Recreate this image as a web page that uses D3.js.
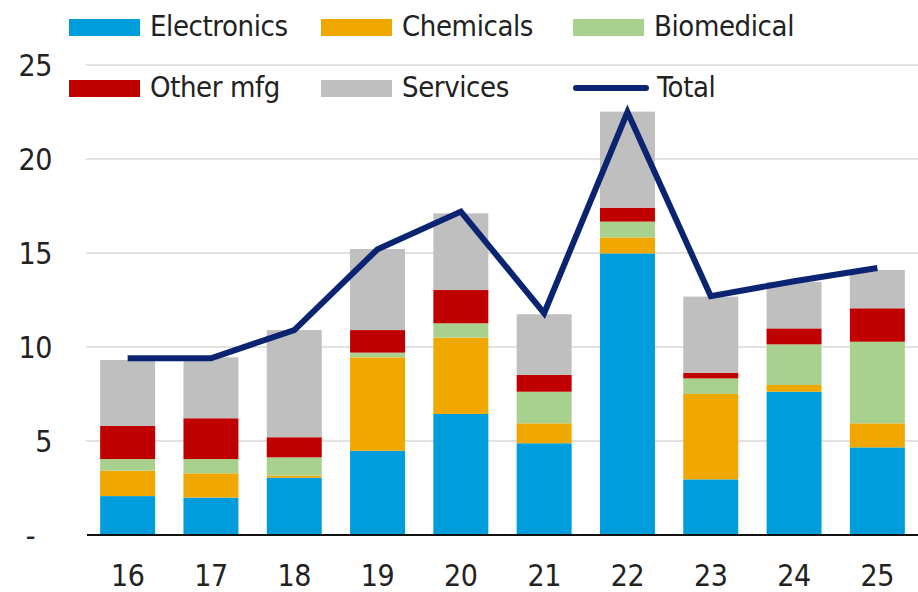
<!DOCTYPE html>
<html>
<head>
<meta charset="utf-8">
<script src="https://cdn.jsdelivr.net/npm/d3@7"></script>
<style>
  body { margin: 0; background: #fff; }
  text { font-family: "DejaVu Sans Condensed", "DejaVu Sans", sans-serif; font-stretch: condensed; fill: #222; letter-spacing: -0.4px; }
</style>
</head>
<body>
<div id="chart"></div>
<script>
// values
const years = ["16", "17", "18", "19", "20", "21", "22", "23", "24", "25"];
const electronics = [2.07, 1.99, 3.05, 4.48, 6.44, 4.88, 14.98, 2.96, 7.62, 4.66];
const chemicals = [1.35, 1.29, 0.11, 4.97, 4.06, 1.06, 0.85, 4.54, 0.36, 1.28];
const biomedical = [0.62, 0.76, 0.97, 0.25, 0.76, 1.68, 0.84, 0.83, 2.16, 4.34];
const otherMfg = [1.76, 2.17, 1.07, 1.20, 1.77, 0.89, 0.74, 0.30, 0.85, 1.78];
const services = [3.51, 3.24, 5.70, 4.31, 4.08, 3.23, 5.11, 4.05, 2.48, 2.04];
const total = [9.4, 9.4, 10.9, 15.2, 17.2, 11.8, 22.5, 12.7, 13.5, 14.2];
const yTicks = [0, 5, 10, 15, 20, 25];

const seriesNames = ["Electronics", "Chemicals", "Biomedical", "Other mfg", "Services"];
const seriesValues = [electronics, chemicals, biomedical, otherMfg, services];
const colors = ["#009ddc", "#f0a800", "#a9d18e", "#c00000", "#bfbfbf"];
const lineColor = "#0a2472";

const w = 918, h = 592;
const svg = d3.select("#chart").append("svg").attr("width", w).attr("height", h);

const x = d3.scaleBand().domain(years).range([86, 919]).paddingInner(0.34).paddingOuter(0.17);
const y = d3.scaleLinear().domain([0, 25]).range([535, 65]);

// gridlines
svg.append("g").selectAll("line")
  .data(yTicks.filter(d => d > 0))
  .enter().append("line")
  .attr("x1", 86).attr("x2", w)
  .attr("y1", d => y(d)).attr("y2", d => y(d))
  .attr("stroke", "#d9d9d9").attr("stroke-width", 1.5);

// y axis labels
const yAxis = svg.append("g")
  .attr("transform", "translate(52,0)")
  .call(d3.axisLeft(y).tickValues(yTicks).tickSize(0).tickPadding(0)
    .tickFormat(d => d === 0 ? "-" : d));
yAxis.select(".domain").remove();
yAxis.selectAll("text")
  .style("font-size", "30px")
  .attr("dy", "0.36em")
  .attr("dx", d => d === 0 ? -17 : 0)
  .style("fill", "#222");

// stacked bars
const rows = years.map((yr, i) => {
  const r = { year: yr };
  seriesNames.forEach((s, j) => r[s] = seriesValues[j][i]);
  return r;
});
const stacked = d3.stack().keys(seriesNames)(rows);

svg.append("g").selectAll("g")
  .data(stacked)
  .enter().append("g")
  .attr("fill", (d, i) => colors[i])
  .selectAll("rect")
  .data(d => d)
  .enter().append("rect")
  .attr("x", d => x(d.data.year))
  .attr("width", x.bandwidth())
  .attr("y", d => y(d[1]))
  .attr("height", d => y(d[0]) - y(d[1]));

// x axis baseline
svg.append("line")
  .attr("x1", 87).attr("x2", w)
  .attr("y1", y(0)).attr("y2", y(0))
  .attr("stroke", "#111").attr("stroke-width", 2);

// x axis labels
const xAxis = svg.append("g")
  .attr("transform", "translate(0," + y(0) + ")")
  .call(d3.axisBottom(x).tickSize(0).tickPadding(0));
xAxis.select(".domain").remove();
xAxis.selectAll("text")
  .style("font-size", "30px")
  .attr("y", 51)
  .attr("dy", 0)
  .style("fill", "#222");

// total line
const line = d3.line()
  .x((d, i) => x(years[i]) + x.bandwidth() / 2)
  .y(d => y(d));
svg.append("path")
  .datum(total)
  .attr("d", line)
  .attr("fill", "none")
  .attr("stroke", lineColor)
  .attr("stroke-width", 6)
  .attr("stroke-linejoin", "miter");

// legend
const legendItems = seriesNames.map((s, i) => ({ name: s, color: colors[i], type: "rect" }))
  .concat([{ name: "Total", color: lineColor, type: "line" }]);
const lg = svg.append("g").selectAll("g")
  .data(legendItems)
  .enter().append("g")
  .attr("transform", (d, i) => "translate(" + (69 + (i % 3) * 252) + "," + (i < 3 ? 19 : 80) + ")");

lg.filter(d => d.type === "rect").append("rect")
  .attr("width", 71).attr("height", 17)
  .attr("fill", d => d.color);
lg.filter(d => d.type === "line").append("line")
  .attr("x1", 3).attr("x2", 73).attr("y1", 8).attr("y2", 8)
  .attr("stroke", d => d.color).attr("stroke-width", 6)
  .attr("stroke-linecap", "round");
lg.append("text")
  .attr("x", d => d.type === "line" ? 84 : 81)
  .attr("y", 17)
  .style("font-size", "29px")
  .text(d => d.name);
</script>
</body>
</html>
